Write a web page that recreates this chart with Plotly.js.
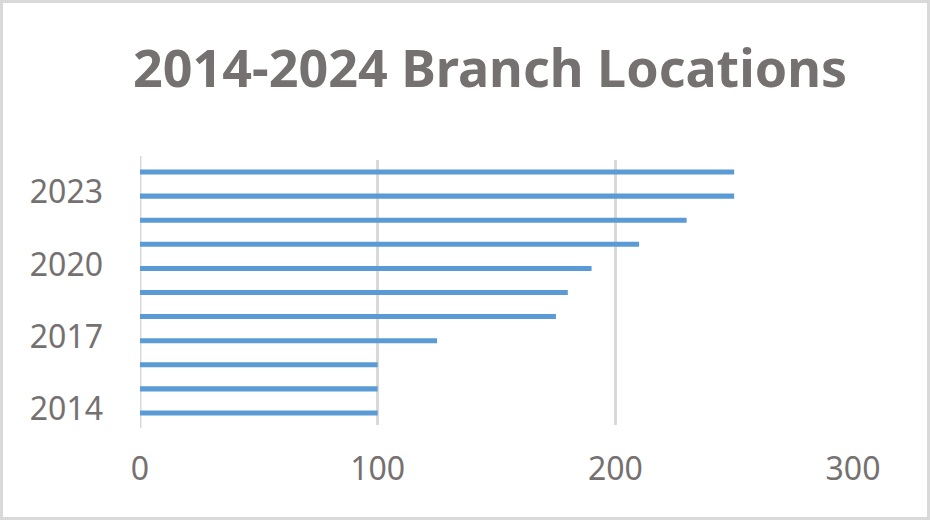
<!DOCTYPE html>
<html>
<head>
<meta charset="utf-8">
<script src="https://cdn.plot.ly/plotly-3.0.1.min.js"></script>
<style>
  html, body { margin: 0; padding: 0; background: #ffffff; }
  #wrap { position: relative; width: 930px; height: 520px; }
  #chart { width: 930px; height: 520px; }
  #frame { position: absolute; left: 0; top: 0; width: 930px; height: 520px; box-sizing: border-box; border: 3px solid #d9d9d9; pointer-events: none; }
</style>
</head>
<body>
<div id="wrap">
  <div id="chart"></div>
  <div id="frame"></div>
</div>
<script>
const years = ['2014','2015','2016','2017','2018','2019','2020','2021','2022','2023','2024'];
const locations = [100, 100, 100, 125, 175, 180, 190, 210, 230, 250, 250];
const yTickLabels = ['2014','2017','2020','2023'];
const xTickValues = [0, 100, 200, 300];
const chartTitle = '2014-2024 Branch Locations';

const grey = '#767171';

const trace = {
  type: 'bar',
  orientation: 'h',
  y: years,
  x: locations,
  marker: { color: '#5b9bd5' },
  hoverinfo: 'x+y'
};

const layout = {
  width: 930,
  height: 520,
  paper_bgcolor: '#ffffff',
  plot_bgcolor: '#ffffff',
  margin: { l: 140, r: 77, t: 160, b: 95 },
  bargap: 0.79,
  showlegend: false,
  title: {
    text: chartTitle,
    font: { family: '"Noto Sans", "Open Sans", sans-serif', size: 52, color: grey, weight: 'bold' },
    x: 0.527,
    xanchor: 'center',
    xref: 'container',
    yref: 'container',
    y: 0.867,
    yanchor: 'middle'
  },
  xaxis: {
    range: [0, 300],
    tickvals: xTickValues,
    showgrid: true,
    gridcolor: '#d9d9d9',
    gridwidth: 3,
    zeroline: false,
    showline: false,
    ticks: '',
    ticklabelstandoff: 22,
    tickfont: { family: '"Noto Sans", "Open Sans", sans-serif', size: 32, color: grey },
    fixedrange: true
  },
  yaxis: {
    type: 'category',
    categoryorder: 'array',
    categoryarray: years,
    tickvals: yTickLabels,
    ticktext: yTickLabels,
    range: [-0.5, 10.5],
    showgrid: false,
    zeroline: false,
    showline: false,
    ticks: '',
    ticklabelstandoff: 36,
    ticklabelshift: -4,
    tickfont: { family: '"Noto Sans", "Open Sans", sans-serif', size: 32, color: grey },
    fixedrange: true
  },
  shapes: [{
    type: 'line', xref: 'x', yref: 'paper',
    x0: 0, x1: 0, y0: -0.012, y1: 1.015,
    line: { color: '#d9d9d9', width: 3 },
    layer: 'below'
  }]
};

Plotly.newPlot('chart', [trace], layout, { displayModeBar: false, staticPlot: true });
</script>
</body>
</html>
